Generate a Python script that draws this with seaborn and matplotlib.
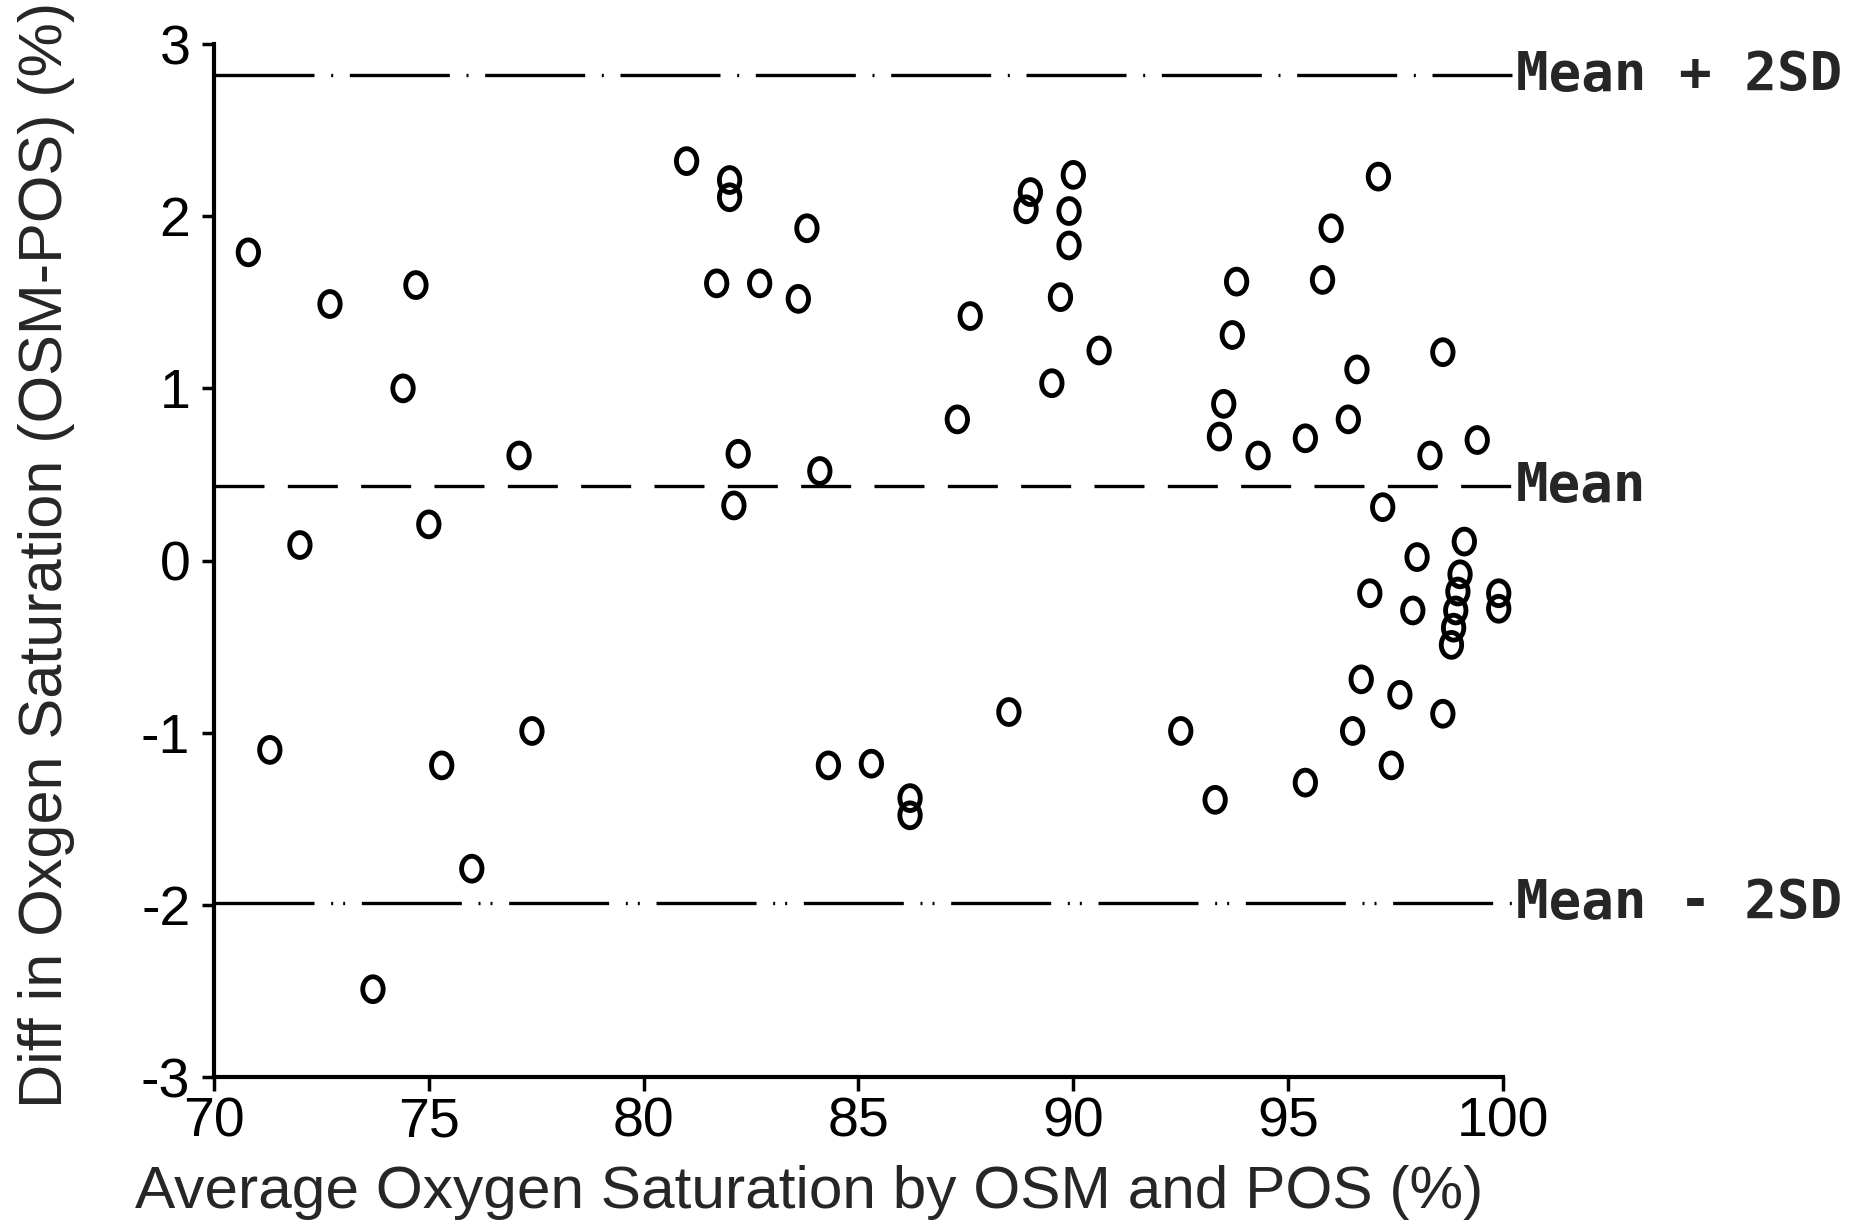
import numpy as np
import pandas as pd
import matplotlib
matplotlib.use("Agg")
import matplotlib.pyplot as plt
from matplotlib.path import Path
from matplotlib.markers import MarkerStyle
import seaborn as sns

# ---- data ----
avg_sat = [70.8, 71.3, 72.0, 72.7, 73.7, 74.4, 74.7, 75.0, 75.3, 76.0, 77.1, 77.4,
           81.0, 82.0, 82.0, 81.7, 82.7, 82.2, 82.1, 83.6, 83.8, 84.1, 84.3, 85.3,
           86.2, 86.2, 87.3, 87.6, 88.5, 89.0, 88.9, 90.0, 89.9, 89.9, 89.7, 89.5,
           90.6, 92.5, 93.3, 93.4, 93.5, 93.7, 93.8, 94.3, 95.4, 95.4, 95.8, 96.0,
           96.4, 96.6, 96.5, 96.7, 96.9, 97.1, 97.2, 97.4, 97.6, 97.9, 98.0, 98.3,
           98.6, 98.6, 99.0, 98.95, 98.9, 98.85, 98.8, 99.1, 99.9, 99.9, 99.4]
diff_sat = [1.79, -1.10, 0.09, 1.49, -2.49, 1.00, 1.60, 0.21, -1.19, -1.79, 0.61, -0.99,
            2.32, 2.21, 2.11, 1.61, 1.61, 0.62, 0.32, 1.52, 1.93, 0.52, -1.19, -1.18,
            -1.38, -1.48, 0.82, 1.42, -0.88, 2.14, 2.04, 2.24, 2.03, 1.83, 1.53, 1.03,
            1.22, -0.99, -1.39, 0.72, 0.91, 1.31, 1.62, 0.61, 0.71, -1.29, 1.63, 1.93,
            0.82, 1.11, -0.99, -0.69, -0.19, 2.23, 0.31, -1.19, -0.78, -0.29, 0.02, 0.61,
            -0.89, 1.21, -0.08, -0.18, -0.29, -0.39, -0.49, 0.11, -0.19, -0.28, 0.70]

ref_levels = [2.82, 0.43, -1.99]
ref_labels = ["Mean + 2SD", "Mean", "Mean - 2SD"]

x_ticks = [70, 75, 80, 85, 90, 95, 100]
y_ticks = [-3, -2, -1, 0, 1, 2, 3]
x_label = "Average Oxygen Saturation by OSM and POS (%)"
y_label = "Diff in Oxgen Saturation (OSM-POS) (%)"

df = pd.DataFrame({"avg": avg_sat, "diff": diff_sat})

# ---- style ----
sns.set_style("ticks")
plt.rcParams["font.family"] = ["Liberation Sans", "DejaVu Sans"]
plt.rcParams["axes.unicode_minus"] = False

fig = plt.figure(figsize=(18.51, 12.20), dpi=100)
ax = fig.add_axes([0.1156, 0.1172, 0.6964, 0.8467])

# slightly tall elliptical open-circle marker
circ = Path.unit_circle()
verts = circ.vertices * np.array([0.82, 1.0])
ell = MarkerStyle(Path(verts, circ.codes))

sns.scatterplot(data=df, x="avg", y="diff", ax=ax, marker=ell, s=320,
                facecolors="none", edgecolors="black", linewidths=3.5,
                zorder=3, legend=False, clip_on=False)
for c in ax.collections:
    c.set_facecolor("none")
    c.set_edgecolor("black")

styles = [(0, (30, 5, 0.6, 5)), (0, (15, 7)), (0, (30, 5, 0.6, 3, 0.6, 5))]
for lvl, lab, ls in zip(ref_levels, ref_labels, styles):
    ax.plot([70, 100.2], [lvl, lvl], color="black", lw=2.4, ls=ls,
            clip_on=False, zorder=2)
    ax.text(100.3, lvl, lab, ha="left", va="center", fontsize=39,
            family="DejaVu Sans Mono", fontweight="bold", clip_on=False)

ax.set_xlim(70, 100)
ax.set_ylim(-3, 3)
ax.set_xticks(x_ticks)
ax.set_yticks(y_ticks)
ax.tick_params(axis="both", direction="out", width=2.5, labelsize=40,
               colors="black")
ax.tick_params(axis="x", length=10, pad=4)
ax.tick_params(axis="y", length=9, pad=8)

for side in ["top", "right"]:
    ax.spines[side].set_visible(False)
for side in ["left", "bottom"]:
    ax.spines[side].set_linewidth(3)
    ax.spines[side].set_color("black")

ax.set_xlabel(x_label, fontsize=43.5)
ax.set_ylabel(y_label, fontsize=44)
ax.xaxis.set_label_coords(0.4616, -0.085)
ax.yaxis.set_label_coords(-0.108, 0.505)

fig.savefig("out.png", dpi=100, facecolor="white")
